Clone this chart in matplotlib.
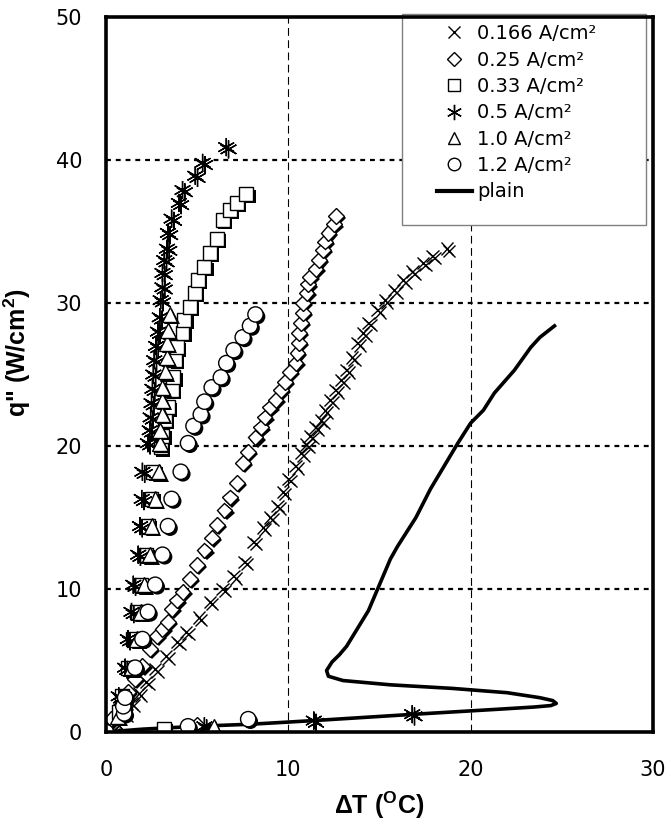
import matplotlib
matplotlib.use("Agg")
import matplotlib.pyplot as plt
import matplotlib.patheffects as pe
from matplotlib.lines import Line2D
from matplotlib.patches import Rectangle

# superheat (deg C) and heat flux (W/cm2)
dT_0166 = [0.3, 0.6, 1.0, 1.4, 1.8, 2.2, 2.7, 3.3, 3.9, 4.4, 5.1, 5.7, 6.4, 7.0, 7.6,
           8.1, 8.6, 9.0, 9.4, 9.7, 10.0, 10.4, 10.7, 11.0, 11.2, 11.5, 11.8, 12.0, 12.3,
           12.6, 12.9, 13.2, 13.5, 13.8, 14.1, 14.4, 14.9, 15.3, 15.8, 16.3, 16.8, 17.4,
           17.9, 18.7]
q_0166 = [0.0, 0.6, 1.3, 2.0, 2.7, 3.5, 4.4, 5.3, 6.3, 7.0, 8.0, 9.1, 10.0, 10.9, 11.9,
          13.3, 14.3, 15.0, 15.8, 16.8, 17.7, 18.6, 19.5, 20.1, 20.7, 21.3, 21.8, 22.5, 23.2,
          23.9, 24.6, 25.3, 26.2, 27.2, 27.9, 28.6, 29.5, 30.2, 30.9, 31.6, 32.2, 32.8,
          33.3, 33.8]

dT_025 = [0.3, 0.8, 1.2, 1.6, 2.0, 2.4, 2.8, 3.1, 3.4, 3.6, 3.9, 4.2, 4.6, 5.0, 5.4,
          5.8, 6.1, 6.5, 6.8, 7.2, 7.5, 7.8, 8.2, 8.5, 8.7, 9.0, 9.3, 9.6, 9.8, 10.1,
          10.4, 10.5, 10.6, 10.6, 10.7, 10.8, 10.8, 11.0, 11.1, 11.2, 11.5, 11.7, 11.9,
          12.0, 12.2, 12.5, 12.6, 5.0]
q_025 = [0.9, 1.9, 2.8, 3.7, 4.6, 5.8, 6.7, 7.2, 7.7, 8.6, 9.2, 9.8, 10.7, 11.7, 12.7,
         13.6, 14.5, 15.5, 16.4, 17.4, 18.8, 19.6, 20.6, 21.3, 22.0, 22.7, 23.2, 23.9, 24.5, 25.2,
         25.8, 26.5, 27.2, 27.9, 28.6, 29.3, 30.0, 30.7, 31.3, 31.8, 32.4, 33.0, 33.7,
         34.3, 34.9, 35.5, 36.1, 0.5]

dT_033 = [3.2, 0.7, 0.9, 1.2, 1.5, 1.7, 1.9, 2.2, 2.3, 2.5, 2.6, 3.0, 3.1, 3.25, 3.4,
          3.6, 3.7, 3.8, 3.9, 4.2, 4.3, 4.6, 4.9, 5.05, 5.4, 5.7, 6.1, 6.4, 6.8, 7.2, 7.7]
q_033 = [0.2, 1.4, 2.5, 4.5, 6.5, 8.4, 10.3, 12.4, 14.4, 16.3, 18.2, 19.9, 20.7, 21.8, 22.7,
         23.9, 24.8, 26.0, 26.9, 27.9, 28.8, 29.7, 30.7, 31.6, 32.5, 33.5, 34.5, 35.8, 36.5,
         37.0, 37.6]

dT_05 = [5.4, 11.4, 16.8, 0.7, 1.05, 1.2, 1.4, 1.5, 1.77, 1.87, 1.96, 2.0, 2.3, 2.4, 2.45,
         2.5, 2.55, 2.6, 2.65, 2.75, 2.85, 2.95, 3.0, 3.1, 3.1, 3.2, 3.35, 3.4, 3.6, 4.0,
         4.2, 4.9, 5.3, 6.6]
q_05 = [0.4, 0.8, 1.25, 2.5, 4.5, 6.5, 8.4, 10.3, 12.4, 14.4, 16.3, 18.2, 20.2, 21.1, 22.0,
        23.0, 24.0, 25.0, 26.0, 27.0, 28.0, 29.0, 30.2, 31.1, 32.1, 33.0, 33.8, 34.9, 35.9, 37.0,
        37.9, 38.9, 39.8, 40.9]

dT_10 = [5.9, 0.65, 1.4, 1.7, 1.9, 2.1, 2.4, 2.5, 2.7, 2.9, 2.97, 2.97, 3.1, 3.1, 3.1,
         3.25, 3.35, 3.35, 3.4, 3.5]
q_10 = [0.4, 1.1, 4.5, 6.5, 8.4, 10.3, 12.4, 14.4, 16.3, 18.2, 20.2, 21.1, 22.2, 23.2, 24.1,
        25.2, 26.2, 27.2, 28.1, 29.2]

dT_12 = [0.0, 4.5, 7.8, 1.0, 0.95, 1.05, 1.6, 2.0, 2.3, 2.7, 3.1, 3.4, 3.6, 4.1, 4.5,
         4.8, 5.2, 5.4, 5.8, 6.3, 6.6, 7.0, 7.5, 7.9, 8.2]
q_12 = [0.0, 0.4, 0.9, 1.3, 1.8, 2.4, 4.5, 6.5, 8.4, 10.3, 12.4, 14.4, 16.3, 18.2, 20.2,
        21.4, 22.2, 23.1, 24.1, 24.8, 25.8, 26.7, 27.6, 28.4, 29.2]

dT_plain = [0.0, 2.0, 5.0, 8.0, 11.4, 17.0, 21.6, 23.5, 24.4, 24.7, 24.5, 23.8, 22.0, 19.0,
            15.6, 13.0, 12.2, 12.1, 12.4, 12.8, 13.2, 14.4, 15.6, 16.0, 17.0, 17.8, 19.3,
            20.0, 20.7, 21.3, 22.4, 23.3, 23.8, 24.6]
q_plain = [0.0, 0.2, 0.4, 0.55, 0.8, 1.25, 1.6, 1.75, 1.85, 2.0, 2.2, 2.4, 2.75, 3.05,
           3.3, 3.6, 3.9, 4.3, 4.9, 5.4, 6.0, 8.5, 12.1, 13.0, 15.0, 17.0, 20.2,
           21.6, 22.5, 23.7, 25.3, 26.9, 27.6, 28.4]

labels = ["0.166 A/cm²", "0.25 A/cm²", "0.33 A/cm²", "0.5 A/cm²", "1.0 A/cm²", "1.2 A/cm²", "plain"]
x_ticks = [0, 10, 20, 30]
y_ticks = [0, 10, 20, 30, 40, 50]

plt.rcParams["font.family"] = ["DejaVu Sans"]
plt.rcParams["mathtext.fontset"] = "custom"
plt.rcParams["mathtext.bf"] = "Liberation Sans:bold"
plt.rcParams["mathtext.rm"] = "Liberation Sans"

fig = plt.figure(figsize=(6.69, 8.25), dpi=100)
ax = fig.add_axes([0.1584, 0.1127, 0.8176, 0.8667])

# Excel-like drop shadow under the markers
fill_shadow = [pe.SimplePatchShadow(offset=(1.6, -1.6), shadow_rgbFace="k", alpha=1.0), pe.Normal()]
line_shadow = [pe.SimpleLineShadow(offset=(1.6, -1.6), shadow_color="k", alpha=1.0), pe.Normal()]

ax.plot(dT_plain, q_plain, color="k", lw=2.6, zorder=2)

styles = [
    (dT_0166, q_0166, dict(marker="x", ms=9, mew=1.0, color="k"), line_shadow),
    (dT_025, q_025, dict(marker="D", ms=8, mew=1.0, mfc="white", mec="k"), fill_shadow),
    (dT_033, q_033, dict(marker="s", ms=10, mew=1.0, mfc="white", mec="k"), fill_shadow),
    (dT_05, q_05, dict(marker=(6, 2, 0), ms=13, mew=1.0, color="k"), line_shadow),
    (dT_10, q_10, dict(marker="^", ms=11, mew=1.0, mfc="white", mec="k"), fill_shadow),
    (dT_12, q_12, dict(marker="o", ms=11, mew=1.0, mfc="white", mec="k"), fill_shadow),
]
for x, y, kw, eff in styles:
    ax.plot(x, y, ls="none", zorder=3, path_effects=eff, **kw)

ax.set_xlim(0, 30)
ax.set_ylim(0, 50)
ax.set_xticks(x_ticks)
ax.set_yticks(y_ticks)
ax.tick_params(axis="both", length=0, labelsize=15)
ax.tick_params(axis="x", pad=20)
ax.tick_params(axis="y", pad=17)

for v in y_ticks[1:-1]:
    ax.axhline(v, color="k", lw=1.6, ls=(0, (2.2, 2.2)), zorder=1)
for v in x_ticks[1:-1]:
    ax.axvline(v, color="k", lw=0.8, ls=(0, (7, 4)), zorder=1)

for s in ax.spines.values():
    s.set_linewidth(2.6)
    s.set_zorder(6)

ax.set_xlabel(r"ΔT ($^{\mathbf{O}}$C)", fontsize=18, fontweight="bold", family="Liberation Sans")
ax.set_ylabel('q" (W/cm$^{\\mathbf{2}}$)', fontsize=18, fontweight="bold", family="Liberation Sans")
ax.xaxis.set_label_coords(0.5, -0.08)
ax.yaxis.set_label_coords(-0.133, 0.53)

# legend box
ax.add_patch(Rectangle((0.541, 0.709), 0.446, 0.295, transform=ax.transAxes,
                       facecolor="white", edgecolor="#808080", lw=1.0, zorder=4.5, clip_on=False))
handles = [
    Line2D([], [], ls="none", marker="x", ms=9, mew=1.0, color="k"),
    Line2D([], [], ls="none", marker="D", ms=7, mew=1.0, mfc="white", mec="k"),
    Line2D([], [], ls="none", marker="s", ms=9, mew=1.0, mfc="white", mec="k"),
    Line2D([], [], ls="none", marker=(6, 2, 0), ms=11, mew=1.0, color="k"),
    Line2D([], [], ls="none", marker="^", ms=9, mew=1.0, mfc="white", mec="k"),
    Line2D([], [], ls="none", marker="o", ms=9, mew=1.0, mfc="white", mec="k"),
    Line2D([], [], color="k", lw=3.0),
]
leg = ax.legend(handles, labels, loc="upper left", bbox_to_anchor=(0.605, 0.99),
                frameon=False, borderpad=0, borderaxespad=0, handlelength=1.8,
                handletextpad=0.25, labelspacing=0.38, fontsize=14)
leg.set_zorder(7)

fig.savefig("out.png", dpi=100)
plt.close(fig)
